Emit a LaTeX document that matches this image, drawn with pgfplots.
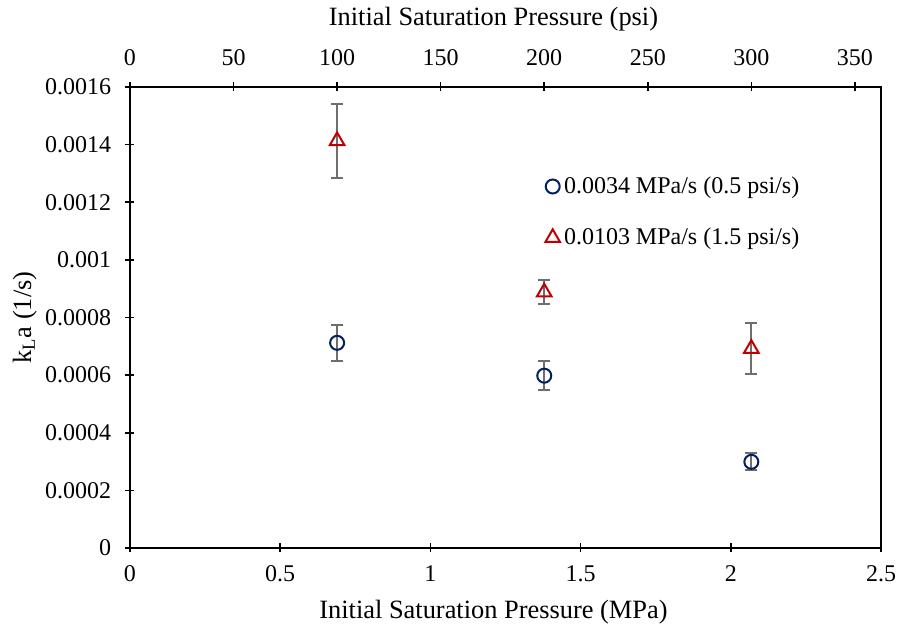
\documentclass[border=0pt]{standalone}
\usepackage{pgfplots}
\pgfplotsset{compat=1.18}
\usepackage{fontspec}
\setmainfont{Liberation Serif}
\usetikzlibrary{calc}
\definecolor{dblue}{RGB}{0,32,96}
\definecolor{dred}{RGB}{192,0,0}
\definecolor{ebar}{RGB}{110,110,110}
\pgfplotstableread{
x y e
0.6895 0.000712 0.000062
1.3790 0.000598 0.000051
2.0684 0.000299 0.000029
}\slowtab
\pgfplotstableread{
x y e
0.6895 0.001413 0.000128
1.3790 0.000888 0.000042
2.0684 0.000692 0.000088
}\fasttab
\begin{document}
\fontsize{12}{14}\selectfont
\begin{tikzpicture}
\begin{axis}[
  name=main,
  scale only axis, width=375.5pt, height=230.5pt,
  xmin=0, xmax=2.5, ymin=0, ymax=0.0016,
  xtick={0,0.5,1,1.5,2,2.5}, xticklabels={0,0.5,1,1.5,2,2.5},
  ytick={0,0.0002,0.0004,0.0006,0.0008,0.001,0.0012,0.0014,0.0016},
  yticklabels={0,0.0002,0.0004,0.0006,0.0008,0.001,0.0012,0.0014,0.0016},
  scaled y ticks=false,
  /pgf/number format/assume math mode=true,
  tick align=center, major tick length=4.5pt,
  tick style={black, line width=0.8pt},
  xtick pos=bottom, ytick pos=left,
  axis line style={line width=0.8pt},
  tick label style={font=\fontsize{12}{14}\selectfont},
  label style={font=\fontsize{13.2}{15}\selectfont},
  xticklabel style={yshift=-2.5pt},
  yticklabel style={xshift=-3pt},
  xlabel={Initial Saturation Pressure (MPa)},
  xlabel style={yshift=-1pt, xshift=-6pt},
  ylabel={k\textsubscript{L}a (1/s)},
  ylabel style={yshift=-4pt},
  legend style={at={(0.55,0.82)}, anchor=north west, draw=none, fill=none,
    font=\fontsize{12}{14}\selectfont, row sep=11.5pt, inner sep=1pt},
  legend cell align=left,
]
\addplot[only marks, mark=o, mark size=3.5pt, dblue, line width=1pt,
  error bars/.cd, y dir=both, y explicit,
  error bar style={ebar, line width=1pt},
  error mark options={rotate=90, ebar, line width=1pt, mark size=3pt}]
  table[x=x, y=y, y error=e] {\slowtab};
\addlegendentry{0.0034 MPa/s (0.5 psi/s)}
\addplot[only marks, mark=triangle, mark size=4.2pt, dred, line width=1pt,
  error bars/.cd, y dir=both, y explicit,
  error bar style={ebar, line width=1pt},
  error mark options={rotate=90, ebar, line width=1pt, mark size=3pt}]
  table[x=x, y=y, y error=e] {\fasttab};
\addlegendentry{0.0103 MPa/s (1.5 psi/s)}
\end{axis}
\begin{axis}[
  scale only axis, width=375.5pt, height=230.5pt,
  xmin=0, xmax=362.594, ymin=0, ymax=1,
  axis x line*=top, axis y line=none,
  xtick={0,50,100,150,200,250,300,350},
  /pgf/number format/assume math mode=true,
  tick align=center, major tick length=4.5pt,
  tick style={black, line width=0.8pt},
  axis line style={line width=0.8pt},
  tick label style={font=\fontsize{12}{14}\selectfont},
  label style={font=\fontsize{13.2}{15}\selectfont},
  xticklabel style={yshift=4pt},
  xlabel={Initial Saturation Pressure (psi)},
  xlabel style={yshift=1pt, xshift=-6pt},
]
\addplot[draw=none, forget plot] coordinates {(0,0)};
\end{axis}
\pgfresetboundingbox
\path[use as bounding box] ($(main.south west)+(-65pt,-40pt)$) rectangle ($(main.north east)+(10pt,43.5pt)$);
\end{tikzpicture}
\end{document}
